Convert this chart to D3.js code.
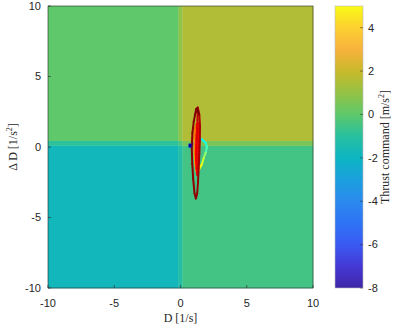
<!DOCTYPE html>
<html>
<head>
<meta charset="utf-8">
<script src="https://cdn.jsdelivr.net/npm/d3@7"></script>
<style>
  body { margin: 0; background: #fff; }
  text { font-family: "Liberation Sans", Arial, sans-serif; }
</style>
</head>
<body>
<div id="chart"></div>
<script>
// lookup table: D edges, dD edges, thrust command values (rows = dD bands, low to high)
var dEdges = [-10, -0.15, 0.15, 10];
var ddEdges = [-10, 0.1, 0.45, 10];
var thrust = [
    [-1.8, -1.15, -0.5],
    [-0.9, -0.35, 0.5],
    [0, 0.9, 1.55]
];

// trajectory samples (D, dD, normalised time)
var trajD = [0.72, 0.85, 1.05, 1.3, 1.6, 1.9, 2.0, 1.9, 1.75, 1.6, 1.4, 1.2, 1.1, 1.05, 1.05, 1.1, 1.2, 1.3, 1.35, 1.3, 1.25, 1.2, 1.15, 1.2, 1.3, 1.38, 1.36, 1.28, 1.2, 1.24, 1.28,
    1.3, 1.42, 1.47, 1.46, 1.42, 1.37, 1.32, 1.26, 1.16, 1.06, 0.96, 0.89, 0.85, 0.9, 1.0, 1.1, 1.18, 1.22, 1.27, 1.4];
var trajDD = [0.1, 0.12, 0.3, 0.55, 0.55, 0.3, 0.0, -0.4, -0.8, -1.25, -1.6, -1.7, -1.2, -0.3, 0.6, 1.3, 1.6, 1.2, 0.3, -0.8, -1.9, -1.5, -0.5, 0.8, 1.7, 0.6, -0.9, -2.0, -1.0, 0.5, 1.9,
    2.8, 2.3, 1.5, 0.5, -0.5, -1.5, -2.5, -3.3, -3.65, -3.3, -2.3, -1.2, 0.0, 1.0, 1.8, 2.3, 2.7, 2.5, 2.75, 2.3];
var trajT = [0, 0.08, 0.2, 0.3, 0.34, 0.38, 0.41, 0.45, 0.52, 0.58, 0.63, 0.67, 0.7, 0.72, 0.74, 0.76, 0.78, 0.8, 0.82, 0.84, 0.85, 0.86, 0.865, 0.87, 0.875, 0.88, 0.885, 0.89, 0.895, 0.9, 0.91,
    0.93, 0.94, 0.95, 0.955, 0.96, 0.965, 0.97, 0.975, 0.98, 0.983, 0.986, 0.989, 0.991, 0.993, 0.995, 0.997, 0.998, 0.999, 0.9995, 1];

var xTicks = [-10, -5, 0, 5, 10];
var yTicks = [-10, -5, 0, 5, 10];
var cTicks = [-8, -6, -4, -2, 0, 2, 4];

var width = 399, height = 326;
var plotLeft = 48, plotRight = 313, plotTop = 6, plotBottom = 288;
var cbLeft = 335, cbRight = 363;

var svg = d3.select("#chart").append("svg")
    .attr("width", width)
    .attr("height", height);

var x = d3.scaleLinear().domain([-10, 10]).range([plotLeft, plotRight]);
var y = d3.scaleLinear().domain([-10, 10]).range([plotBottom, plotTop]);

// parula-like colormap sampled at integer values
var color = d3.scaleLinear()
    .domain([-8, -7, -6, -5, -4, -3, -2, -1, 0, 1, 2, 3, 4, 5])
    .range(["#3e26a8", "#4538d5", "#3a5af2", "#2f73f5", "#2b8aee", "#1ba0dd", "#0db5c2", "#28c0a0",
        "#5ec86a", "#94c245", "#c9b92a", "#f8b23e", "#fcd030", "#f9fb15"])
    .clamp(true);

// jet colormap for time
var jet = d3.scaleLinear()
    .domain([0, 0.125, 0.375, 0.625, 0.875, 1])
    .range(["#00008f", "#0000ff", "#00ffff", "#ffff00", "#ff0000", "#800000"]);

// cells
var cells = [];
thrust.forEach(function (row, i) {
    row.forEach(function (v, j) {
        cells.push({d0: dEdges[j], d1: dEdges[j + 1], dd0: ddEdges[i], dd1: ddEdges[i + 1], v: v});
    });
});

svg.append("g").selectAll("rect").data(cells).enter().append("rect")
    .attr("x", function (d) { return x(d.d0); })
    .attr("y", function (d) { return y(d.dd1); })
    .attr("width", function (d) { return x(d.d1) - x(d.d0) + 0.3; })
    .attr("height", function (d) { return y(d.dd0) - y(d.dd1) + 0.3; })
    .attr("fill", function (d) { return color(d.v); });

// trajectory, drawn as coloured segments
var segs = d3.range(trajD.length - 1).map(function (i) {
    return {x1: trajD[i], y1: trajDD[i], x2: trajD[i + 1], y2: trajDD[i + 1], t: trajT[i + 1]};
});
svg.append("g").selectAll("line").data(segs).enter().append("line")
    .attr("x1", function (d) { return x(d.x1); })
    .attr("y1", function (d) { return y(d.y1); })
    .attr("x2", function (d) { return x(d.x2); })
    .attr("y2", function (d) { return y(d.y2); })
    .attr("stroke", function (d) { return jet(d.t); })
    .attr("stroke-width", 2)
    .attr("stroke-linecap", "round");

// start marker
svg.append("rect")
    .attr("x", x(trajD[0]) - 1.5)
    .attr("y", y(trajDD[0]) - 2)
    .attr("width", 3)
    .attr("height", 4)
    .attr("fill", jet(0.05));

// axes box
var axisColor = "#262626";
svg.append("rect")
    .attr("x", plotLeft).attr("y", plotTop)
    .attr("width", plotRight - plotLeft).attr("height", plotBottom - plotTop)
    .attr("fill", "none").attr("stroke", axisColor).attr("stroke-width", 0.6);

// x ticks
var xg = svg.append("g");
xg.selectAll("line").data(xTicks).enter().append("line")
    .attr("x1", x).attr("x2", x)
    .attr("y1", plotBottom).attr("y2", plotBottom - 3)
    .attr("stroke", axisColor).attr("stroke-width", 0.6);
xg.selectAll("text").data(xTicks).enter().append("text")
    .attr("x", x).attr("y", 307)
    .attr("text-anchor", "middle")
    .attr("font-size", 11).attr("fill", axisColor)
    .text(String);

// y ticks
var yg = svg.append("g");
yg.selectAll("line").data(yTicks).enter().append("line")
    .attr("x1", plotLeft).attr("x2", plotLeft + 3)
    .attr("y1", y).attr("y2", y)
    .attr("stroke", axisColor).attr("stroke-width", 0.6);
yg.selectAll("text").data(yTicks).enter().append("text")
    .attr("x", 41).attr("y", y).attr("dy", "0.35em")
    .attr("text-anchor", "end")
    .attr("font-size", 11).attr("fill", axisColor)
    .text(String);

// axis labels (LaTeX-like serif)
svg.append("text")
    .attr("x", x(0)).attr("y", 322)
    .attr("text-anchor", "middle")
    .style("font-family", "'Liberation Serif', serif")
    .attr("font-size", 12).attr("fill", axisColor)
    .text("D [1/s]");

var yl = svg.append("text")
    .attr("transform", "translate(17," + y(0) + ") rotate(-90)")
    .attr("text-anchor", "middle")
    .style("font-family", "'Liberation Serif', serif")
    .attr("font-size", 12).attr("fill", axisColor);
yl.append("tspan").text("\u0394 D [1/s");
yl.append("tspan").attr("dy", -5).attr("font-size", 8).text("2");
yl.append("tspan").attr("dy", 5).text("]");

// colorbar
var cy = d3.scaleLinear().domain([-8, 5]).range([plotBottom, plotTop]);
var grad = svg.append("defs").append("linearGradient")
    .attr("id", "cbgrad").attr("x1", 0).attr("y1", 1).attr("x2", 0).attr("y2", 0);
grad.selectAll("stop").data(color.domain()).enter().append("stop")
    .attr("offset", function (d) { return (d + 8) / 13; })
    .attr("stop-color", function (d) { return color(d); });

svg.append("rect")
    .attr("x", cbLeft).attr("y", plotTop)
    .attr("width", cbRight - cbLeft).attr("height", plotBottom - plotTop)
    .attr("fill", "url(#cbgrad)")
    .attr("stroke", "#bdbdbd").attr("stroke-width", 0.6);

var cg = svg.append("g");
cg.selectAll("line").data(cTicks).enter().append("line")
    .attr("x1", cbRight).attr("x2", cbRight - 3)
    .attr("y1", cy).attr("y2", cy)
    .attr("stroke", axisColor).attr("stroke-width", 0.5);
cg.selectAll("text").data(cTicks).enter().append("text")
    .attr("x", 368).attr("y", cy).attr("dy", "0.35em")
    .attr("font-size", 11).attr("fill", axisColor)
    .text(String);

var cl = svg.append("text")
    .attr("transform", "translate(389," + y(0) + ") rotate(-90)")
    .attr("text-anchor", "middle")
    .style("font-family", "'Liberation Serif', serif")
    .attr("font-size", 12).attr("fill", axisColor);
cl.append("tspan").text("Thrust command [m/s");
cl.append("tspan").attr("dy", -5).attr("font-size", 8).text("2");
cl.append("tspan").attr("dy", 5).text("]");
</script>
</body>
</html>
